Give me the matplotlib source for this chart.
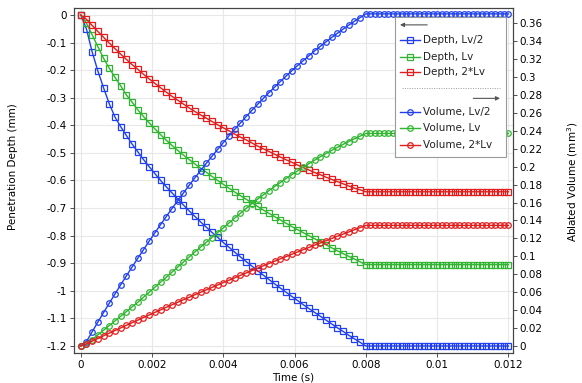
import numpy as np
import matplotlib
matplotlib.use('Agg')
import matplotlib.pyplot as plt
from matplotlib.patches import Rectangle
from matplotlib.ticker import FuncFormatter, MultipleLocator

# output times: 51 steps during the pulse, 32 after it
t_pulse = np.linspace(0, 0.008, 51)
t_hold = np.linspace(0.008125, 0.012, 32)
n_hold = len(t_hold)

# penetration depth (mm) during pulse
depth_lv2 = [0, -0.051, -0.134, -0.203, -0.264, -0.322, -0.370, -0.405, -0.437, -0.468,
             -0.496, -0.524, -0.550, -0.575, -0.600, -0.623, -0.645, -0.667, -0.689, -0.710,
             -0.730, -0.750, -0.769, -0.788, -0.806, -0.825, -0.842, -0.860, -0.877, -0.894,
             -0.910, -0.927, -0.943, -0.959, -0.975, -0.990, -1.005, -1.020, -1.035, -1.050,
             -1.064, -1.078, -1.092, -1.106, -1.120, -1.134, -1.147, -1.161, -1.174, -1.187,
             -1.200]
depth_lv = [0, -0.030, -0.072, -0.115, -0.157, -0.193, -0.226, -0.257, -0.290, -0.316,
            -0.344, -0.368, -0.391, -0.413, -0.434, -0.454, -0.473, -0.491, -0.508, -0.524,
            -0.540, -0.555, -0.570, -0.585, -0.600, -0.614, -0.628, -0.642, -0.655, -0.668,
            -0.681, -0.694, -0.707, -0.719, -0.731, -0.743, -0.755, -0.767, -0.778, -0.789,
            -0.800, -0.811, -0.822, -0.833, -0.844, -0.855, -0.865, -0.875, -0.885, -0.895,
            -0.905]
depth_2lv = [0, -0.016, -0.038, -0.060, -0.081, -0.102, -0.122, -0.142, -0.161, -0.180,
             -0.197, -0.215, -0.232, -0.248, -0.264, -0.280, -0.295, -0.309, -0.323, -0.337,
             -0.350, -0.362, -0.374, -0.386, -0.398, -0.409, -0.420, -0.432, -0.443, -0.453,
             -0.464, -0.475, -0.485, -0.495, -0.505, -0.515, -0.525, -0.534, -0.544, -0.553,
             -0.562, -0.571, -0.579, -0.588, -0.596, -0.604, -0.612, -0.620, -0.628, -0.634,
             -0.641]

# ablated volume (mm^3) during pulse
vol_lv2 = [0, 0.0050, 0.0159, 0.0267, 0.0373, 0.0477, 0.0580, 0.0682, 0.0782, 0.0881,
           0.0979, 0.1074, 0.1169, 0.1262, 0.1354, 0.1444, 0.1533, 0.1620, 0.1706, 0.1791,
           0.1874, 0.1956, 0.2036, 0.2115, 0.2192, 0.2268, 0.2343, 0.2416, 0.2487, 0.2558,
           0.2627, 0.2694, 0.2760, 0.2824, 0.2887, 0.2949, 0.3009, 0.3068, 0.3126, 0.3181,
           0.3236, 0.3289, 0.3341, 0.3391, 0.3440, 0.3487, 0.3533, 0.3578, 0.3621, 0.3662,
           0.3703]
vol_lv = [0, 0.0020, 0.0072, 0.0124, 0.0176, 0.0228, 0.0280, 0.0332, 0.0384, 0.0436,
          0.0488, 0.0544, 0.0600, 0.0656, 0.0712, 0.0768, 0.0824, 0.0880, 0.0936, 0.0992,
          0.1048, 0.1102, 0.1156, 0.1210, 0.1264, 0.1318, 0.1372, 0.1426, 0.1480, 0.1534,
          0.1588, 0.1637, 0.1685, 0.1732, 0.1778, 0.1823, 0.1867, 0.1910, 0.1952, 0.1993,
          0.2033, 0.2072, 0.2110, 0.2146, 0.2181, 0.2215, 0.2248, 0.2280, 0.2311, 0.2341,
          0.2370]
vol_2lv = [0, 0.0025, 0.0055, 0.0084, 0.0114, 0.0144, 0.0173, 0.0202, 0.0231, 0.0260,
           0.0289, 0.0318, 0.0346, 0.0375, 0.0403, 0.0432, 0.0460, 0.0488, 0.0516, 0.0543,
           0.0571, 0.0599, 0.0626, 0.0653, 0.0680, 0.0708, 0.0734, 0.0761, 0.0788, 0.0814,
           0.0841, 0.0867, 0.0894, 0.0920, 0.0946, 0.0972, 0.0997, 0.1023, 0.1048, 0.1074,
           0.1099, 0.1124, 0.1149, 0.1174, 0.1199, 0.1224, 0.1248, 0.1272, 0.1297, 0.1321,
           0.1345]

labels_depth = ['Depth, Lv/2', 'Depth, Lv', 'Depth, 2*Lv']
labels_vol = ['Volume, Lv/2', 'Volume, Lv', 'Volume, 2*Lv']
colors = ['#1f3ff0', '#2fb52f', '#e41c1c']

plt.rcParams['font.family'] = ['DejaVu Sans']
plt.rcParams['font.size'] = 7.5

t = np.concatenate([t_pulse, t_hold])


def held(vals):
    # value stays at the end-of-pulse level afterwards
    return list(vals) + [vals[-1]] * n_hold


fig = plt.figure(figsize=(5.82, 3.83), dpi=100)
ax = fig.add_axes([0.1271, 0.0775, 0.7539, 0.9008])
ax2 = ax.twinx()

for vals, c in zip([depth_lv2, depth_lv, depth_2lv], colors):
    ax.plot(t, held(vals), color=c, lw=1, marker='s', ms=4, mfc='none', mew=0.9)
for vals, c in zip([vol_lv2, vol_lv, vol_2lv], colors):
    ax2.plot(t, held(vals), color=c, lw=1, marker='o', ms=4, mfc='none', mew=0.9)

ax.set_xlim(-0.00019, 0.01212)
ax.set_ylim(-1.2265, 0.024)
ax2.set_ylim(-0.0081, 0.3765)


def tick_fmt(v, pos):
    v = round(v, 6) + 0.0
    return '{:g}'.format(v).replace('\u2212', '-')


fmt = FuncFormatter(tick_fmt)
ax.xaxis.set_major_locator(MultipleLocator(0.002))
ax.yaxis.set_major_locator(MultipleLocator(0.1))
ax2.yaxis.set_major_locator(MultipleLocator(0.02))
ax.xaxis.set_major_formatter(fmt)
ax.yaxis.set_major_formatter(fmt)
ax2.yaxis.set_major_formatter(fmt)

ax.grid(True, color='#e8e8e8', lw=0.8)
ax.set_axisbelow(True)
for a in (ax, ax2):
    a.tick_params(length=3, width=0.6, color='#333333', pad=2, labelsize=7.5)
    for s in a.spines.values():
        s.set_color('#444444')
        s.set_linewidth(0.8)

ax.set_xlabel('Time (s)')
ax.set_ylabel('Penetration Depth (mm)')
ax2.set_ylabel('Ablated Volume (mm$^3$)')
ax.xaxis.set_label_coords(0.5, -0.055)
ax.yaxis.set_label_coords(-0.128, 0.541)
ax2.yaxis.set_label_coords(1.119, 0.497)

# legend box with axis arrows (drawn by hand)
tr = ax2.transAxes
ax2.add_patch(Rectangle((0.732, 0.569), 0.253, 0.406, transform=tr, facecolor='white',
                        edgecolor='#9a9a9a', lw=0.8, zorder=10, clip_on=False))
ax2.annotate('', xy=(0.743, 0.952), xytext=(0.805, 0.952), xycoords=tr, zorder=11,
             arrowprops=dict(arrowstyle='-|>', color='#555555', lw=0.8,
                             mutation_scale=6, shrinkA=0, shrinkB=0))
ax2.annotate('', xy=(0.971, 0.739), xytext=(0.910, 0.739), xycoords=tr, zorder=11,
             arrowprops=dict(arrowstyle='-|>', color='#555555', lw=0.8,
                             mutation_scale=6, shrinkA=0, shrinkB=0))
ax2.plot([0.747, 0.971], [0.770, 0.770], transform=tr, color='#999999', lw=0.7,
         ls=(0, (1, 1.5)), zorder=11, clip_on=False)

rows_depth = [0.909, 0.859, 0.814]
rows_vol = [0.700, 0.652, 0.604]
for rows, labels, mk in [(rows_depth, labels_depth, 's'), (rows_vol, labels_vol, 'o')]:
    for y, lab, c in zip(rows, labels, colors):
        ax2.plot([0.743, 0.789], [y, y], transform=tr, color=c, lw=1, zorder=11, clip_on=False)
        ax2.plot([0.766], [y], transform=tr, color=c, marker=mk, ms=4, mfc='none', mew=0.9,
                 zorder=12, clip_on=False)
        ax2.text(0.795, y, lab, transform=tr, va='center', ha='left', fontsize=7.5,
                 color='#222222', zorder=12)

fig.savefig('out.png', dpi=100)
